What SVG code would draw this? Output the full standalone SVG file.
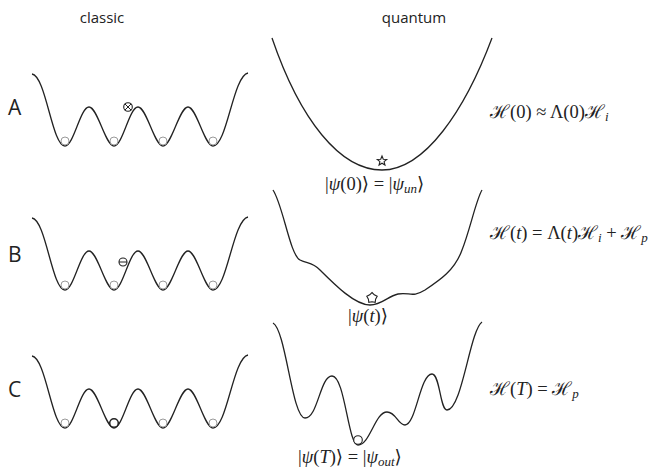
<svg xmlns="http://www.w3.org/2000/svg" width="652" height="468" viewBox="0 0 652 468">
<style>
.crv{fill:none;stroke:#222;stroke-width:1.3}
.ghost{fill:#fff;stroke:#9a9a9a;stroke-width:1}
.sans{font-family:"Open Sans","Liberation Sans",sans-serif;fill:#222}
.math{font-family:"Liberation Serif","DejaVu Serif",serif;fill:#222;font-size:18.5px}
.it{font-style:italic}
.mk{fill:#fff;stroke:#222;stroke-width:1.1}
</style>
<defs>
<path id="wells" class="crv" d="M32,74 C46,76 52,146 65,146 C73.7,146 80.3,107 89,107 C97.7,107 105.3,146 114,146 C122.7,146 129.3,107 138,107 C146.7,107 154.3,146 163,146 C171.7,146 179.3,107 188,107 C196.7,107 204.3,146 213,146 C227,146 233,76 248,73"/>
<g id="ghosts">
<circle class="ghost" cx="65" cy="141" r="4"/>
<circle class="ghost" cx="114" cy="141" r="4"/>
<circle class="ghost" cx="163" cy="141" r="4"/>
<circle class="ghost" cx="213" cy="141" r="4"/>
</g>
</defs>
<text class="sans" x="102" y="23" font-size="15" text-anchor="middle">classic</text>
<text class="sans" x="414" y="23" font-size="15" text-anchor="middle">quantum</text>

<g id="rowA">
<text class="sans" x="8" y="115" font-size="21">A</text>
<use href="#wells"/>
<use href="#ghosts"/>
<g id="ballA">
<circle class="mk" cx="128" cy="107" r="4.3"/>
<path d="M125,104 L131,110 M131,104 L125,110" stroke="#222" stroke-width="1"/>
</g>
<path class="crv" d="M272,38 C300,120 340,170 382,170 C425,170 465,110 492,38"/>
<polygon class="mk" transform="translate(382,161)" points="0,-5 1.29,-1.78 4.76,-1.55 2.09,0.68 2.94,4.05 0,2.2 -2.94,4.05 -2.09,0.68 -4.76,-1.55 -1.29,-1.78"/>
<text class="math" x="325" y="190">|<tspan class="it">ψ</tspan>(0)⟩ = |<tspan class="it">ψ</tspan><tspan class="it" font-size="13" dy="3">un</tspan><tspan dy="-3">⟩</tspan></text>
<text class="math" x="490" y="118">ℋ(0) ≈ Λ(0)ℋ<tspan class="it" font-size="13" dy="3">i</tspan></text>
</g>

<g id="rowB">
<text class="sans" x="8" y="262" font-size="21">B</text>
<use href="#wells" transform="translate(0,144)"/>
<use href="#ghosts" transform="translate(0,144)"/>
<g id="ballB">
<circle class="mk" cx="123" cy="262" r="4"/>
<path d="M119,262 L127,262" stroke="#222" stroke-width="1"/>
</g>
<path class="crv" d="M273,190 C283,205 290,255 300,260 C308,264 312,262 320,270 C335,285 355,305 370,305 C382,305 388,296 398,294 C410,292 412,298 425,290 C440,280 455,270 462,250 C470,230 476,200 482,190"/>
<polygon class="mk" transform="translate(372,298)" points="0,-5.5 2.3,-3.2 5.2,-1.7 3.6,1.2 3.2,4.4 0,3.8 -3.2,4.4 -3.6,1.2 -5.2,-1.7 -2.3,-3.2"/>
<text class="math" x="348" y="322">|<tspan class="it">ψ</tspan>(<tspan class="it">t</tspan>)⟩</text>
<text class="math" x="490" y="239">ℋ(<tspan class="it">t</tspan>) = Λ(<tspan class="it">t</tspan>)ℋ<tspan class="it" font-size="13" dy="3">i</tspan><tspan dy="-3"> + ℋ</tspan><tspan class="it" font-size="13" dy="3">p</tspan></text>
</g>

<g id="rowC">
<text class="sans" x="8" y="397" font-size="21">C</text>
<use href="#wells" transform="translate(0,282)"/>
<use href="#ghosts" transform="translate(0,282)"/>
<circle id="ballC" cx="114" cy="423" r="4.3" fill="#fff" stroke="#222" stroke-width="1.5"/>
<path class="crv" d="M273,323 C286,330 292,418 305,418 C318,418 320,376 332,376 C345,376 348,445 358,445 C370,445 375,412 387,412 C396,412 398,425 405,425 C416,425 420,374 432,374 C440,374 440,410 447,410 C462,410 470,330 482,322"/>
<circle class="mk" cx="358" cy="440" r="4.3" stroke-width="1.3"/>
<text class="math" x="298" y="463">|<tspan class="it">ψ</tspan>(<tspan class="it">T</tspan>)⟩ = |<tspan class="it">ψ</tspan><tspan class="it" font-size="13" dy="3">out</tspan><tspan dy="-3">⟩</tspan></text>
<text class="math" x="490" y="395">ℋ(<tspan class="it">T</tspan>) = ℋ<tspan class="it" font-size="13" dy="3">p</tspan></text>
</g>
</svg>
